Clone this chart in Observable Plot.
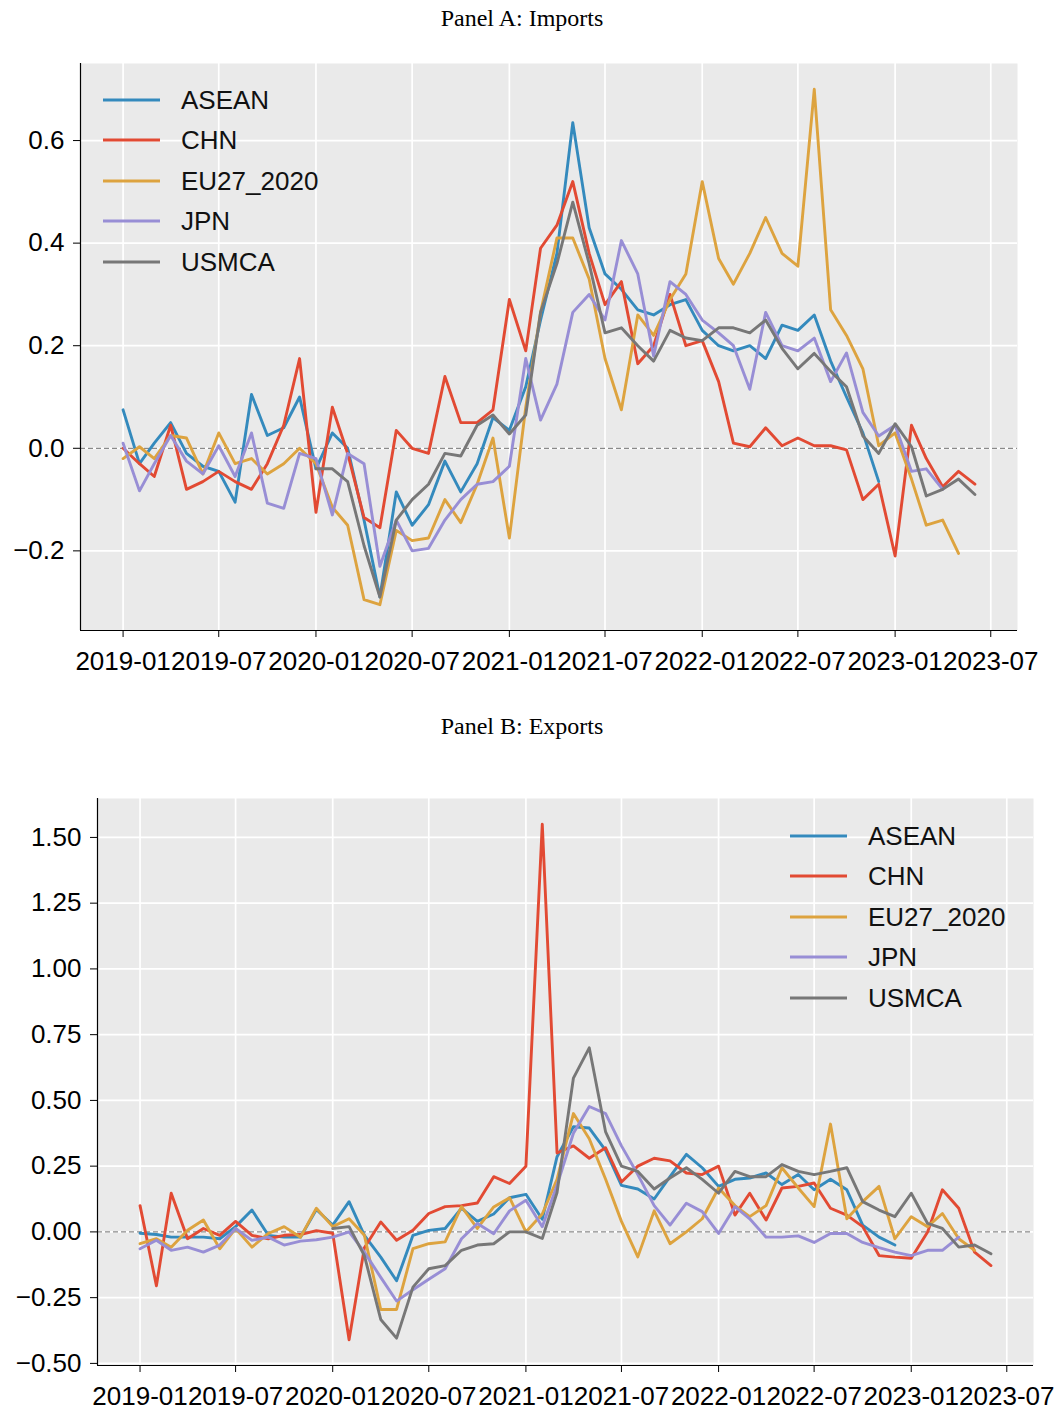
<!DOCTYPE html>
<html>
<head>
<meta charset="utf-8">
<script src="https://cdn.jsdelivr.net/npm/d3@7"></script>
<script src="https://cdn.jsdelivr.net/npm/@observablehq/plot@0.6"></script>
<style>
  body { margin: 0; background: #fff; }
  #wrap { position: relative; width: 1057px; height: 1411px; overflow: hidden; background: #fff; }
  .title { position: absolute; left: 0; width: 1044px; text-align: center;
           font-family: "Liberation Serif", "Times New Roman", serif; font-size: 24px; color: #000; line-height: 26px; }
  .panel { position: absolute; left: 0; }
  .legend { position: absolute; font-family: "Liberation Sans", Arial, sans-serif; font-size: 26px; color: #111; }
  .legend .row { position: absolute; left: 0; display: flex; align-items: center; white-space: nowrap; transform: translateY(-50%); }
  .legend .sw { display: inline-block; width: 57px; height: 3px; margin-right: 21px; }
</style>
</head>
<body>
<div id="wrap">
  <div class="title" style="top:5px">Panel A: Imports</div>
  <div class="panel" id="panelA" style="top:35px"></div>
  <div class="title" style="top:713px">Panel B: Exports</div>
  <div class="panel" id="panelB" style="top:750px"></div>
  <div class="legend" id="legendA" style="left:103px; top:100px"></div>
  <div class="legend" id="legendB" style="left:790px; top:836px"></div>
</div>
<script>
const series = ["ASEAN", "CHN", "EU27_2020", "JPN", "USMCA"];
const colors = ["#348ABD", "#E24A33", "#DDA33F", "#988ED5", "#777777"];

const importsTicksY = [-0.2, 0.0, 0.2, 0.4, 0.6];
const exportsTicksY = [-0.5, -0.25, 0.0, 0.25, 0.5, 0.75, 1.0, 1.25, 1.5];
const xTickLabels = ["2019-01", "2019-07", "2020-01", "2020-07", "2021-01", "2021-07", "2022-01", "2022-07", "2023-01", "2023-07"];

// Panel A: Imports (monthly, 2019-01 .. 2023-06)
const importsASEAN = [0.075,-0.03,0.01,0.05,-0.01,-0.035,-0.045,-0.105,0.105,0.025,
  0.04,0.1,-0.04,0.03,0.0,-0.14,-0.29,-0.085,-0.15,-0.11,
  -0.025,-0.085,-0.03,0.06,0.035,0.12,0.25,0.38,0.635,0.43,
  0.34,0.31,0.27,0.26,0.28,0.29,0.23,0.2,0.19,0.2,
  0.175,0.24,0.23,0.26,0.17,0.1,0.03,-0.065,null,null,
  null,null,null,null];
const importsCHN = [0.0,-0.03,-0.055,0.045,-0.08,-0.065,-0.045,-0.065,-0.08,-0.03,
  0.045,0.175,-0.125,0.08,-0.01,-0.135,-0.155,0.035,0.0,-0.01,
  0.14,0.05,0.05,0.075,0.29,0.19,0.39,0.435,0.52,0.38,
  0.28,0.325,0.165,0.2,0.3,0.2,0.21,0.13,0.01,0.003,
  0.04,0.005,0.02,0.005,0.005,-0.003,-0.1,-0.07,-0.21,0.045,
  -0.02,-0.075,-0.045,-0.07];
const importsEU = [-0.02,0.003,-0.02,0.025,0.02,-0.05,0.03,-0.03,-0.02,-0.05,
  -0.03,0.0,-0.03,-0.115,-0.15,-0.295,-0.305,-0.16,-0.18,-0.175,
  -0.1,-0.145,-0.07,0.02,-0.175,0.08,0.265,0.41,0.41,0.33,
  0.175,0.075,0.26,0.22,0.29,0.34,0.52,0.37,0.32,0.38,
  0.45,0.38,0.355,0.70,0.27,0.22,0.155,0.005,0.03,-0.06,
  -0.15,-0.14,-0.205,null];
const importsJPN = [0.01,-0.083,-0.03,0.025,-0.025,-0.05,0.005,-0.055,0.03,-0.107,
  -0.117,-0.01,-0.02,-0.13,-0.01,-0.03,-0.23,-0.14,-0.2,-0.195,
  -0.14,-0.1,-0.07,-0.065,-0.035,0.175,0.055,0.125,0.265,0.3,
  0.25,0.405,0.34,0.18,0.325,0.3,0.25,0.225,0.2,0.115,
  0.265,0.2,0.19,0.215,0.13,0.186,0.07,0.024,0.045,-0.045,
  -0.04,-0.08,null,null];
const importsUSMCA = [null,null,null,null,null,null,null,null,null,null,
  null,null,-0.04,-0.04,-0.065,-0.19,-0.29,-0.14,-0.1,-0.07,
  -0.01,-0.015,0.045,0.065,0.028,0.065,0.265,0.36,0.48,0.36,
  0.225,0.235,0.2,0.17,0.23,0.215,0.21,0.235,0.235,0.225,
  0.25,0.195,0.155,0.185,0.15,0.12,0.024,-0.01,0.048,0.003,
  -0.093,-0.08,-0.06,-0.09];

// Panel B: Exports
const exportsASEAN = [-0.005,-0.01,-0.02,-0.02,-0.02,-0.026,0.02,0.083,-0.013,-0.02,
  -0.02,0.085,0.026,0.115,-0.013,-0.096,-0.186,-0.013,0.006,0.013,
  0.09,0.04,0.068,0.13,0.143,0.048,0.286,0.4,0.395,0.31,
  0.177,0.163,0.125,0.21,0.295,0.244,0.173,0.2,0.205,0.224,
  0.18,0.218,0.16,0.2,0.16,0.026,-0.02,-0.05,null,null,
  null,null,null,null];
const exportsCHN = [0.1,-0.205,0.147,-0.026,0.013,-0.013,0.04,-0.013,-0.026,-0.013,
  -0.01,0.005,-0.005,-0.41,-0.06,0.038,-0.032,0.006,0.07,0.096,
  0.1,0.11,0.21,0.184,0.25,1.55,0.3,0.327,0.28,0.32,
  0.19,0.25,0.28,0.27,0.224,0.218,0.25,0.064,0.147,0.045,
  0.167,0.173,0.186,0.09,0.064,0.02,-0.09,-0.096,-0.1,0.0,
  0.16,0.09,-0.077,-0.128];
const exportsEU = [-0.045,-0.026,-0.058,0.006,0.045,-0.064,0.013,-0.058,-0.006,0.02,
  -0.02,0.09,0.02,0.05,-0.013,-0.295,-0.295,-0.064,-0.045,-0.038,
  0.096,0.013,0.095,0.13,0.0,0.068,0.2,0.45,0.354,0.2,
  0.04,-0.095,0.08,-0.045,0.0,0.05,0.167,0.1,0.058,0.1,
  0.244,0.167,0.096,0.41,0.05,0.115,0.173,-0.026,0.058,0.02,
  0.07,-0.026,-0.07,null];
const exportsJPN = [-0.064,-0.032,-0.07,-0.058,-0.077,-0.05,0.013,-0.032,-0.02,-0.05,
  -0.035,-0.03,-0.02,0.0,-0.077,-0.173,-0.263,-0.22,-0.18,-0.14,
  -0.026,0.032,-0.007,0.08,0.12,0.02,0.177,0.375,0.477,0.45,
  0.327,0.218,0.1,0.026,0.109,0.077,-0.006,0.096,0.05,-0.02,
  -0.02,-0.015,-0.04,-0.006,-0.006,-0.04,-0.06,-0.077,-0.09,-0.07,
  -0.07,-0.02,null,null];
const exportsUSMCA = [null,null,null,null,null,null,null,null,null,null,
  null,null,0.013,0.02,-0.09,-0.333,-0.404,-0.21,-0.14,-0.128,
  -0.07,-0.05,-0.045,0.0,0.0,-0.025,0.15,0.585,0.7,0.38,
  0.25,0.23,0.163,0.205,0.244,0.2,0.147,0.23,0.21,0.21,
  0.256,0.23,0.218,0.23,0.244,0.115,0.083,0.058,0.147,0.032,
  0.013,-0.058,-0.05,-0.083];

const parseMonth = d3.utcParse("%Y-%m");
const months = d3.utcMonth.range(parseMonth("2019-01"), parseMonth("2023-07"));
const xTicks = xTickLabels.map(parseMonth);

function toTable(arrays) {
  return arrays.flatMap((arr, k) => arr.map((v, i) => ({series: series[k], date: months[i], value: v})));
}
const importsData = toTable([importsASEAN, importsCHN, importsEU, importsJPN, importsUSMCA]);
const exportsData = toTable([exportsASEAN, exportsCHN, exportsEU, exportsJPN, exportsUSMCA]);

// matplotlib-like 5% margins around the data extent
const t0 = months[0], t1 = months[months.length - 1];
const pad = 0.05 * (t1 - t0);
const xDomain = [new Date(+t0 - pad), new Date(+t1 + pad)];

function yPad(data) {
  const ext = d3.extent(data, d => d.value);
  const p = 0.05 * (ext[1] - ext[0]);
  return [ext[0] - p, ext[1] + p];
}

const fmtMinus = s => s.replace("-", "\u2212");

function panel({data, height, marginLeft, marginRight, marginTop, marginBottom, yTicks, yFmt}) {
  const yDomain = yPad(data);
  return Plot.plot({
    width: 1057,
    height,
    marginLeft, marginRight, marginTop, marginBottom,
    x: {type: "utc", domain: xDomain, label: null},
    y: {domain: yDomain, label: null},
    color: {domain: series, range: colors},
    style: {fontFamily: "'Liberation Sans', Arial, sans-serif", fontSize: "26px", background: "transparent", color: "#000", overflow: "visible"},
    marks: [
      Plot.frame({fill: "#EAEAEA", stroke: "none"}),
      Plot.gridX(xTicks, {stroke: "#ffffff", strokeOpacity: 1, strokeWidth: 1.7}),
      Plot.gridY(yTicks, {stroke: "#ffffff", strokeOpacity: 1, strokeWidth: 1.7}),
      Plot.ruleY([0], {stroke: "#8a8a8a", strokeWidth: 1.3, strokeDasharray: "5,3"}),
      Plot.lineY(data, {x: "date", y: "value", z: "series", stroke: "series", strokeWidth: 2.9, strokeLinejoin: "round"}),
      Plot.ruleX([xDomain[0]], {stroke: "#000", strokeWidth: 1.2}),
      Plot.ruleY([yDomain[0]], {stroke: "#000", strokeWidth: 1.2}),
      Plot.axisX(xTicks, {tickFormat: d3.utcFormat("%Y-%m"), tickSize: 7, tickPadding: 14, fontSize: 26, label: null, stroke: "#000"}),
      Plot.axisY(yTicks, {tickFormat: d => fmtMinus(yFmt(d)), tickSize: 7, tickPadding: 9, fontSize: 26, label: null, stroke: "#000"})
    ]
  });
}

document.getElementById("panelA").append(panel({
  data: importsData, height: 665, marginLeft: 80, marginRight: 40, marginTop: 28, marginBottom: 70,
  yTicks: importsTicksY, yFmt: d3.format(".1f")
}));
document.getElementById("panelB").append(panel({
  data: exportsData, height: 661, marginLeft: 97, marginRight: 24, marginTop: 48, marginBottom: 46,
  yTicks: exportsTicksY, yFmt: d3.format(".2f")
}));

function legend(id) {
  const el = document.getElementById(id);
  series.forEach((s, k) => {
    const row = document.createElement("div");
    row.className = "row";
    row.style.top = (k * 40.4) + "px";
    const sw = document.createElement("span");
    sw.className = "sw";
    sw.style.background = colors[k];
    const tx = document.createElement("span");
    tx.textContent = s;
    row.append(sw, tx);
    el.append(row);
  });
}
legend("legendA");
legend("legendB");
</script>
</body>
</html>
